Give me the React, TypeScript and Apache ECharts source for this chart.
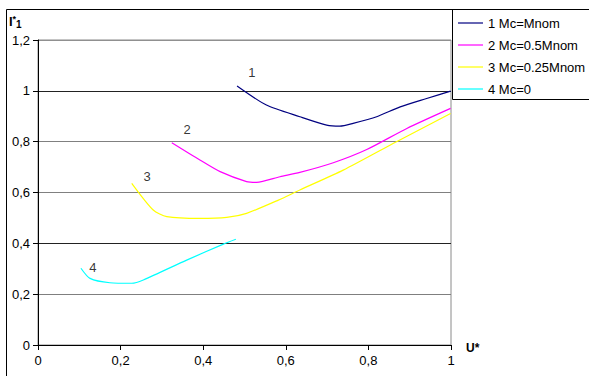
import React, { useEffect, useRef } from "react";
import * as echarts from "echarts";

// Relative current I*1 versus relative voltage U* for several load torques
const curve1: [number, number][] = [
  [0.482, 1.019], [0.553, 0.944], [0.634, 0.898], [0.699, 0.865], [0.731, 0.861],
  [0.763, 0.872], [0.82, 0.898], [0.877, 0.937], [0.941, 0.97], [0.999, 0.999],
];
const curve2: [number, number][] = [
  [0.324, 0.796], [0.392, 0.728], [0.441, 0.682], [0.505, 0.643], [0.529, 0.64],
  [0.586, 0.662], [0.634, 0.679], [0.715, 0.717], [0.796, 0.769], [0.893, 0.852], [0.999, 0.931],
];
const curve3: [number, number][] = [
  [0.227, 0.636], [0.279, 0.531], [0.312, 0.505], [0.392, 0.498], [0.457, 0.502],
  [0.505, 0.518], [0.582, 0.57], [0.634, 0.61], [0.739, 0.688], [0.868, 0.8], [0.999, 0.911],
];
const curve4: [number, number][] = [
  [0.104, 0.302], [0.126, 0.262], [0.174, 0.245], [0.227, 0.243], [0.255, 0.256],
  [0.36, 0.334], [0.449, 0.397], [0.479, 0.416],
];

const seriesNames = ["1 Mc=Mnom", "2 Mc=0.5Mnom", "3 Mc=0.25Mnom", "4 Mc=0"];
const seriesColors = ["#000080", "#ff00ff", "#ffff00", "#00ffff"];

// Curve number tags placed next to each curve
const curveTags: { name: string; value: [number, number] }[] = [
  { name: "1", value: [0.518, 1.074] },
  { name: "2", value: [0.361, 0.846] },
  { name: "3", value: [0.264, 0.661] },
  { name: "4", value: [0.133, 0.303] },
];

const FONT = "'Liberation Sans', Arial, sans-serif";
const comma = (v: number) => String(v).replace(".", ",");

export default function App() {
  const ref = useRef<HTMLDivElement>(null);

  useEffect(() => {
    document.body.style.margin = "0";
    const chart = echarts.init(ref.current!, undefined, { renderer: "svg" });
    const curves = [curve1, curve2, curve3, curve4];
    chart.setOption({
      animation: false,
      backgroundColor: "#ffffff",
      textStyle: { fontFamily: FONT, color: "#000" },
      grid: {
        left: 38,
        top: 40,
        right: 138,
        bottom: 31,
        show: true,
        borderColor: "#8a8a8a",
        borderWidth: 1,
      },
      xAxis: {
        type: "value",
        min: 0,
        max: 1,
        interval: 0.2,
        axisLine: { show: true, onZero: false, lineStyle: { color: "#000", width: 1 } },
        axisTick: { show: true, length: 5, lineStyle: { color: "#000" } },
        axisLabel: { formatter: comma, fontSize: 13, color: "#000", margin: 9, fontFamily: FONT },
        splitLine: { show: false },
      },
      yAxis: {
        type: "value",
        min: 0,
        max: 1.2,
        interval: 0.2,
        axisLine: { show: true, lineStyle: { color: "#000", width: 1 } },
        axisTick: { show: true, length: 5, lineStyle: { color: "#000" } },
        axisLabel: { formatter: comma, fontSize: 13, color: "#000", margin: 8, fontFamily: FONT },
        splitLine: {
          show: true,
          lineStyle: {
            color: ["#000", "#7f7f7f", "#222", "#808080", "#808080", "#222", "#909090"],
            width: 1,
          },
        },
      },
      legend: {
        data: seriesNames.map((name) => ({ name, icon: "rect" })),
        orient: "vertical",
        left: 458,
        top: 15,
        padding: 0,
        itemWidth: 25,
        itemHeight: 1.2,
        itemGap: 6,
        textStyle: { fontSize: 13, color: "#000", fontFamily: FONT, lineHeight: 16 },
      },
      graphic: [
        {
          type: "rect",
          shape: { x: 6.5, y: 9.5, width: 640, height: 420 },
          style: { fill: "none", stroke: "#000", lineWidth: 1 },
          z: 100,
        },
        {
          type: "rect",
          shape: { x: 452.5, y: 9.5, width: 200, height: 90 },
          style: { fill: "none", stroke: "#000", lineWidth: 1 },
          z: 100,
        },
        {
          type: "text",
          left: 9,
          top: 14,
          style: {
            text: "{i|I}{sup|*}{sub|1}",
            rich: {
              i: { fontSize: 13, fontWeight: "bold", fontFamily: FONT, fill: "#000", lineHeight: 15 },
              sup: { fontSize: 9, fontWeight: "bold", fontFamily: FONT, fill: "#000", verticalAlign: "top", lineHeight: 15 },
              sub: { fontSize: 10, fontWeight: "bold", fontFamily: FONT, fill: "#000", verticalAlign: "bottom", lineHeight: 15 },
            },
          },
        },
        {
          type: "text",
          left: 466,
          top: 342,
          style: { text: "U*", fontSize: 12, fontWeight: "bold", fontFamily: FONT, fill: "#000" },
        },
      ],
      series: [
        ...curves.map((data, i) => ({
          name: seriesNames[i],
          type: "line",
          data,
          smooth: 0.25,
          symbol: "none",
          lineStyle: { color: seriesColors[i], width: 1.2 },
          itemStyle: { color: seriesColors[i] },
        })),
        {
          name: "tags",
          type: "scatter",
          data: curveTags,
          symbolSize: 0,
          silent: true,
          label: {
            show: true,
            position: "inside",
            formatter: (p: any) => p.name,
            fontSize: 13,
            color: "#000",
            fontFamily: FONT,
          },
        },
      ],
    });
    return () => chart.dispose();
  }, []);

  return (
    <div
      ref={ref}
      style={{ position: "fixed", left: 0, top: 0, width: 589, height: 376 }}
    />
  );
}
